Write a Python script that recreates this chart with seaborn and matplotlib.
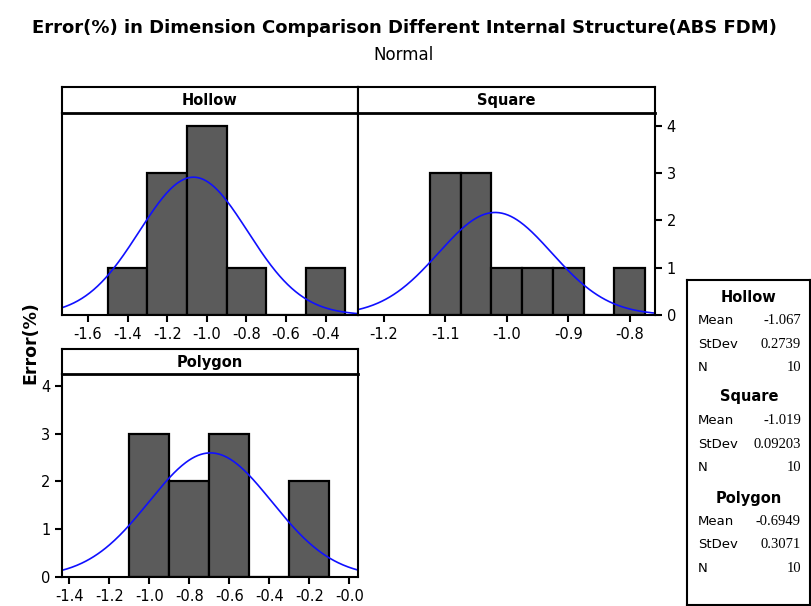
import numpy as np
import matplotlib
matplotlib.use("Agg")
import matplotlib.pyplot as plt
import seaborn as sns

# histogram bins (edges) and counts
hollow_edges = [-1.5, -1.3, -1.1, -0.9, -0.7, -0.5, -0.3]
hollow_counts = [1, 3, 4, 1, 0, 1]
square_edges = [-1.125, -1.075, -1.025, -0.975, -0.925, -0.875, -0.825, -0.775]
square_counts = [3, 3, 1, 1, 1, 0, 1]
polygon_edges = [-1.1, -0.9, -0.7, -0.5, -0.3, -0.1]
polygon_counts = [3, 2, 3, 0, 2]

# summary stats (legend box + fitted normal curves)
groups = ["Hollow", "Square", "Polygon"]
means = [-1.067, -1.019, -0.6949]
stdevs = [0.2739, 0.09203, 0.3071]
ns = [10, 10, 10]
mean_labels = ["-1.067", "-1.019", "-0.6949"]
stdev_labels = ["0.2739", "0.09203", "0.3071"]

hollow_ticks = [-1.6, -1.4, -1.2, -1.0, -0.8, -0.6, -0.4]
hollow_ticklabels = ["-1.6", "-1.4", "-1.2", "-1.0", "-0.8", "-0.6", "-0.4"]
square_ticks = [-1.2, -1.1, -1.0, -0.9, -0.8]
square_ticklabels = ["-1.2", "-1.1", "-1.0", "-0.9", "-0.8"]
polygon_ticks = [-1.4, -1.2, -1.0, -0.8, -0.6, -0.4, -0.2, 0.0]
polygon_ticklabels = ["-1.4", "-1.2", "-1.0", "-0.8", "-0.6", "-0.4", "-0.2", "-0.0"]
count_ticks = [0, 1, 2, 3, 4]

sns.set_style("white")
plt.rcParams['font.family'] = ['DejaVu Sans']
plt.rcParams['text.color'] = 'black'
plt.rcParams['axes.labelcolor'] = 'black'

W, H = 812, 606
fig = plt.figure(figsize=(W / 100, H / 100), dpi=100)


def box(x0, y0, x1, y1):
    # pixel box -> figure rect
    return [x0 / W, 1 - y1 / H, (x1 - x0) / W, (y1 - y0) / H]


def strip(x0, y0, x1, y1, label):
    sax = fig.add_axes(box(x0, y0, x1, y1))
    sax.set_xticks([])
    sax.set_yticks([])
    for s in sax.spines.values():
        s.set_linewidth(1.5)
        s.set_color("black")
    sax.spines["bottom"].set_linewidth(2)
    sax.text(0.5, 0.47, label, ha="center", va="center", fontsize=10.5,
             fontweight="bold", transform=sax.transAxes)


def panel(rect, edges, counts, mean, sd, n, xlim, ticks, ticklabels):
    ax = fig.add_axes(rect)
    centers = [(a + b) / 2 for a, b in zip(edges[:-1], edges[1:])]
    sns.histplot(x=centers, weights=counts, bins=edges, ax=ax,
                 color="#5b5b5b", edgecolor="black", linewidth=1.6, alpha=1)
    bw = edges[1] - edges[0]
    xs = np.linspace(xlim[0], xlim[1], 300)
    ys = n * bw * np.exp(-0.5 * ((xs - mean) / sd) ** 2) / (sd * np.sqrt(2 * np.pi))
    sns.lineplot(x=xs, y=ys, ax=ax, color="#1010ff", linewidth=1.2)
    ax.set_xlim(*xlim)
    ax.set_ylim(0, 4.27)
    ax.set_xticks(ticks)
    ax.set_xticklabels(ticklabels)
    ax.set_xlabel("")
    ax.set_ylabel("")
    for s in ax.spines.values():
        s.set_linewidth(1.5)
        s.set_color("black")
    ax.tick_params(direction="out", length=5, width=1.5, labelsize=10.5,
                   colors="black", bottom=True)
    return ax


ax1 = panel(box(62, 113, 358, 315), hollow_edges, hollow_counts, means[0], stdevs[0],
            ns[0], (-1.731, -0.236), hollow_ticks, hollow_ticklabels)
ax1.set_yticks([])
strip(62, 87, 358, 113, "Hollow")

ax2 = panel(box(358, 113, 655, 315), square_edges, square_counts, means[1], stdevs[1],
            ns[1], (-1.2423, -0.7587), square_ticks, square_ticklabels)
ax2.set_yticks(count_ticks)
ax2.yaxis.tick_right()
ax2.tick_params(axis="y", right=True, left=False, direction="out", length=5, width=1.5)
strip(358, 87, 655, 113, "Square")

ax3 = panel(box(62, 374, 358, 577), polygon_edges, polygon_counts, means[2], stdevs[2],
            ns[2], (-1.437, 0.043), polygon_ticks, polygon_ticklabels)
ax3.set_ylim(0, 4.25)
ax3.set_yticks(count_ticks)
ax3.tick_params(axis="y", left=True, direction="out", length=5, width=1.5)
strip(62, 349, 358, 374, "Polygon")

# titles
fig.text(404 / W, 1 - 28 / H, "Error(%) in Dimension Comparison Different Internal Structure(ABS FDM)",
         ha="center", va="center", fontsize=13, fontweight="bold")
fig.text(404 / W, 1 - 55 / H, "Normal", ha="center", va="center", fontsize=12)
fig.text(30 / W, 1 - 343 / H, "Error(%)", ha="center", va="center", rotation=90,
         fontsize=12.5, fontweight="bold")

# stats box
lax = fig.add_axes(box(687, 280, 810, 605))
lax.set_xticks([])
lax.set_yticks([])
for s in lax.spines.values():
    s.set_linewidth(1.5)
    s.set_color("black")

row_y = [297, 397, 498]
for i, g in enumerate(groups):
    y0 = row_y[i]
    fig.text(749 / W, 1 - y0 / H, g, ha="center", va="center", fontsize=10.5, fontweight="bold")
    rows = [("Mean", mean_labels[i]), ("StDev", stdev_labels[i]), ("N", str(ns[i]))]
    for j, (lab, val) in enumerate(rows):
        yy = y0 + 23.5 * (j + 1)
        fig.text(698 / W, 1 - yy / H, lab, ha="left", va="center", fontsize=9.5)
        fig.text(801 / W, 1 - yy / H, val, ha="right", va="center", fontsize=10.5,
                 family=["Liberation Serif", "DejaVu Serif"])

fig.savefig("out.png", dpi=100)
